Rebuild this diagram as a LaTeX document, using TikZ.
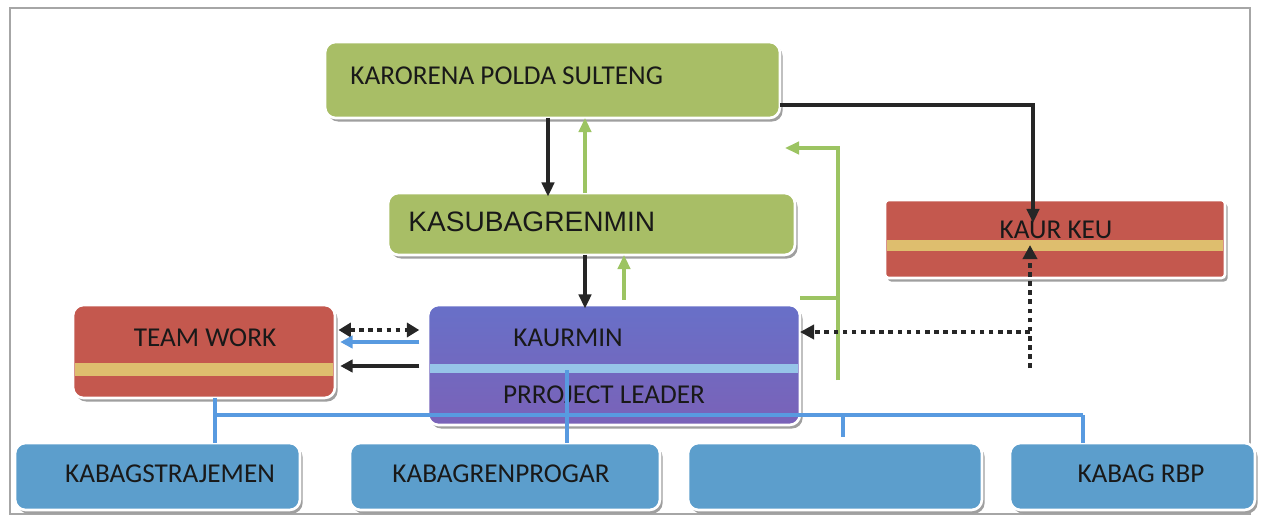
\documentclass[tikz,border=0pt]{standalone}
\usepackage{fontspec}
\setmainfont{Carlito}
\newfontfamily\arialf{Liberation Sans}
\usetikzlibrary{arrows.meta,shadows}
\definecolor{grn}{RGB}{168,190,102}
\definecolor{redb}{RGB}{196,88,78}
\definecolor{stripeY}{RGB}{222,190,110}
\definecolor{blub}{RGB}{92,158,204}
\definecolor{kaurT}{RGB}{104,112,200}
\definecolor{kaurB}{RGB}{122,98,184}
\definecolor{kaurS}{RGB}{150,196,232}
\definecolor{lgrn}{RGB}{156,196,98}
\definecolor{lblu}{RGB}{88,154,224}
\definecolor{txt}{RGB}{25,25,25}
\tikzset{
  box/.style={draw=white, line width=1.5pt, inner sep=0pt, outer sep=0pt, rounded corners=6pt,
    drop shadow={shadow xshift=1.5pt, shadow yshift=-2pt, fill=gray!75, opacity=1}},
  lbl/.style={text=txt, font=\fontsize{15.5}{18}\selectfont, inner sep=0pt},
  blk/.style={line width=2pt, draw=black!85, -{Triangle[length=8pt,width=7pt]}},
  grl/.style={line width=2pt, draw=lgrn},
  gra/.style={grl, -{Triangle[length=8pt,width=7pt]}},
  bll/.style={line width=1.8pt, draw=lblu},
  dotl/.style={line width=2.6pt, draw=black!85, dash pattern=on 2.6pt off 2.6pt},
}
\begin{document}
\begin{tikzpicture}[x=0.02cm, y=-0.02cm]
\useasboundingbox (0,0) rectangle (1263,520);
\fill[white] (0,0) rectangle (1263,520);
\draw[gray!70, line width=0.6pt] (10,8) rectangle (1250,514);
% boxes
\node[box, fill=grn, minimum width=9.10cm, minimum height=1.52cm] (karo) at (552.5,80) {};
\node[box, fill=grn, minimum width=8.14cm, minimum height=1.24cm] (subag) at (591.5,224) {};
\node[box, fill=redb, rounded corners=2pt, minimum width=6.80cm, minimum height=1.56cm] (keu) at (1055,239) {};
\node[box, fill=redb, minimum width=5.24cm, minimum height=1.86cm] (team) at (204,351.5) {};
\node[box, top color=kaurT, bottom color=kaurB, minimum width=7.44cm, minimum height=2.40cm] (kaur) at (614,365) {};
\node[box, fill=blub, minimum width=5.70cm, minimum height=1.34cm] (b1) at (157.5,476.5) {};
\node[box, fill=blub, minimum width=6.20cm, minimum height=1.34cm] (b2) at (505,476.5) {};
\node[box, fill=blub, minimum width=5.88cm, minimum height=1.34cm] (b3) at (835,476.5) {};
\node[box, fill=blub, minimum width=4.90cm, minimum height=1.34cm] (b4) at (1132.5,476.5) {};
% stripes
\fill[stripeY] (887,240) rectangle (1223,251);
\fill[stripeY] (75,363) rectangle (333,376);
\fill[kaurS] (430,364) rectangle (798,373);
% texts
\node[lbl, anchor=west] (tkaro) at (350,76) {KARORENA POLDA SULTENG};
\node[lbl, anchor=west, font=\arialf\fontsize{16}{19}\selectfont] (tsub) at (408,222) {KASUBAGRENMIN};
\node[lbl] (tkeu) at (1056,230) {KAUR KEU};
\node[lbl] (tteam) at (205,338) {TEAM WORK};
\node[lbl] (tkaur) at (568,338) {KAURMIN};
\node[lbl] (tpl) at (604,395) {PRROJECT LEADER};
\node[lbl] (tb1) at (170,474) {KABAGSTRAJEMEN};
\node[lbl] (tb2) at (501,474) {KABAGRENPROGAR};
\node[lbl] (tb4) at (1141,474) {KABAG RBP};
% helper coordinates
\coordinate (xa) at (548,0);
\coordinate (xb) at (585,0);
\coordinate (xc) at (624,0);
\coordinate (g1) at (800,298);
\coordinate (g2) at (838,298);
\coordinate (g3) at (838,380);
\coordinate (g4) at (838,148);
\coordinate (g5) at (785,148);
\coordinate (k1) at (1033,105);
\coordinate (k2) at (1033,223);
\coordinate (d1) at (1030,368);
\coordinate (d2) at (1030,245);
\coordinate (d3) at (1030,332);
\coordinate (y330) at (0,330);
\coordinate (y342) at (0,342);
\coordinate (y366) at (0,366);
\coordinate (bx1) at (215,415);
\coordinate (bx2) at (567,415);
\coordinate (bx3) at (843,415);
\coordinate (bx4) at (1083,415);
\coordinate (bx3e) at (843,437);
\coordinate (kin) at (567,370);
% vertical connectors
\draw[blk] (karo.south -| xa) -- ([yshift=-2pt]subag.north -| xa);
\draw[gra] (subag.north -| xb) -- (karo.south -| xb);
\draw[blk] (subag.south -| xb) -- ([yshift=-2pt]kaur.north -| xb);
\draw[gra] ([yshift=3pt]kaur.north -| xc) -- (subag.south -| xc);
% green bracket
\draw[grl] (g1) -- (g2);
\draw[gra] (g3) -- (g4) -- (g5);
% to KAUR KEU
\draw[blk] (karo.east |- k1) -- (k1) -- (k2);
\draw[dotl, -{Triangle[length=8pt,width=8pt]}] (d1) -- (d2);
\draw[dotl, -{Triangle[length=8pt,width=8pt]}] (d3) -- (kaur.east |- d3);
% team work <-> kaurmin
\draw[dotl, {Triangle[length=7pt,width=8pt]}-{Triangle[length=7pt,width=8pt]}] ([xshift=2pt]team.east |- y330) -- ([xshift=-5pt]kaur.west |- y330);
\draw[bll, -{Triangle[length=7pt,width=7pt]}] ([xshift=-5pt]kaur.west |- y342) -- ([xshift=3pt]team.east |- y342);
\draw[blk, -{Triangle[length=7pt,width=7pt]}] ([xshift=-5pt]kaur.west |- y366) -- ([xshift=3pt]team.east |- y366);
% blue bus
\draw[bll] (team.south -| bx1) -- (b1.north -| bx1);
\draw[bll] (bx1) -- (bx4);
\draw[bll] (kin) -- (b2.north -| bx2);
\draw[bll] (bx3) -- (bx3e);
\draw[bll] (bx4) -- (b4.north -| bx4);
\end{tikzpicture}
\end{document}
